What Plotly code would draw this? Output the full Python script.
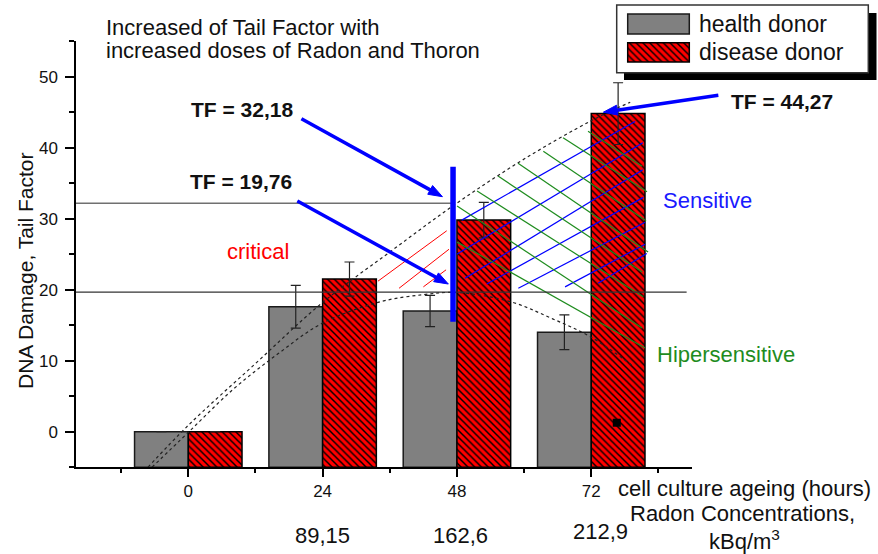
import math
import plotly.graph_objects as go

FONT = "Liberation Sans, Arial, sans-serif"
W, H = 878, 554

# data
HOURS = ["0", "24", "48", "72"]
RADON = ["", "89,15", "162,6", "212,9"]
HEALTH = [0, 17.6, 17.0, 14.0]
HEALTH_ERR = [None, 3.0, 2.2, 2.45]
DISEASE = [0, 21.5, 29.8, 44.8]
DISEASE_ERR = [None, 2.4, 2.5, 4.35]
TF_LOW, TF_HIGH, TF_MAX = 19.76, 32.18, 44.27

# dotted trend curves (x in category units, y in tail factor)
UPPER_X = [-0.30, 0.0, 0.5, 1.0, 1.5, 2.0, 2.5, 3.0, 3.29]
UPPER_Y = [-5.0, 0.9, 9.6, 18.2, 25.3, 32.2, 38.4, 43.8, 46.4]
LOWER_X = [-0.27, 0.0, 0.33, 0.67, 1.0, 1.43, 1.75, 2.0, 2.4, 2.7, 3.0, 3.3]
LOWER_Y = [-5.0, -0.1, 5.9, 11.0, 15.3, 18.3, 19.3, 19.6, 18.3, 16.0, 13.3, 9.4]

# hatch strokes of the zones (x0, y0, x1, y1)
CRITICAL = [(1.412, 21.2, 1.924, 28.3), (1.569, 20.2, 1.941, 25.7),
            (1.750, 20.4, 1.919, 22.8)]
SENSITIVE = [(2.036, 29.8, 3.326, 43.7), (1.999, 25.0, 3.384, 40.7),
             (2.060, 21.6, 3.384, 36.9), (2.222, 20.8, 3.388, 33.0),
             (2.457, 20.2, 3.401, 29.5), (2.805, 20.4, 3.401, 26.4),
             (3.051, 20.9, 3.413, 25.1)]
HIPER = [(2.976, 42.3, 3.378, 37.4), (2.790, 41.4, 3.415, 33.8),
         (2.643, 39.5, 3.408, 29.7), (2.455, 37.8, 3.423, 25.3),
         (2.306, 36.0, 3.380, 22.5), (2.150, 33.9, 3.387, 19.0),
         (2.001, 31.8, 3.378, 14.6), (2.001, 26.7, 3.401, 11.8)]

# arrow heads (data) and tail offsets (px)
ARROWS = [(1.892, 33.1, -141, -78), (1.936, 20.8, -151, -83), (3.09, 45.0, 115, -17)]

BASE = -5
X = list(range(len(HOURS)))

# plot area in figure pixels
XPIX, YPIX = (76, 692), (467.2, 41.2)
XRANGE, YRANGE = (-0.836, 3.75), (-5, 55)


def px(x):
    return x / W


def py(y):
    return 1 - y / H


def to_pix(x, y):
    fx = (x - XRANGE[0]) / (XRANGE[1] - XRANGE[0])
    fy = (y - YRANGE[0]) / (YRANGE[1] - YRANGE[0])
    return XPIX[0] + fx * (XPIX[1] - XPIX[0]), YPIX[0] + fy * (YPIX[1] - YPIX[0])


def strokes(segs, color, width):
    xs, ys = [], []
    for x0, y0, x1, y1 in segs:
        xs += [x0, x1, None]
        ys += [y0, y1, None]
    return go.Scatter(x=xs, y=ys, mode="lines", hoverinfo="skip",
                      line=dict(color=color, width=width))


def arrow_shapes(hx, hy, ax, ay, color="#0000ff", width=3.5, head=14, half=5):
    x1, y1 = to_pix(hx, hy)
    x0, y0 = x1 + ax, y1 + ay
    d = math.hypot(x1 - x0, y1 - y0)
    ux, uy = (x1 - x0) / d, (y1 - y0) / d
    bx, by = x1 - ux * head, y1 - uy * head
    nx, ny = -uy, ux
    tri = [(x1, y1), (bx + nx * half, by + ny * half), (bx - nx * half, by - ny * half)]
    path = "M" + " L".join(f"{px(a):.5f},{py(b):.5f}" for a, b in tri) + " Z"
    return [
        dict(type="line", xref="paper", yref="paper", x0=px(x0), y0=py(y0),
             x1=px(bx + ux * 2), y1=py(by + uy * 2), line=dict(color=color, width=width)),
        dict(type="path", xref="paper", yref="paper", path=path,
             fillcolor=color, line=dict(color=color, width=1)),
    ]


RED_PATTERN = dict(shape="\\", fgcolor="black", bgcolor="#ff0000",
                   size=4.8, solidity=0.3, fillmode="replace")

fig = go.Figure()
fig.add_trace(go.Bar(
    x=X, y=[v - BASE for v in HEALTH], base=BASE, offset=-0.4, width=0.4,
    name="health donor",
    marker=dict(color="#808080", line=dict(color="#1a1a1a", width=1.5)),
    error_y=dict(type="data", array=HEALTH_ERR, color="#222", thickness=1.2, width=5),
))
fig.add_trace(go.Bar(
    x=X, y=[v - BASE for v in DISEASE], base=BASE, offset=0, width=0.4,
    name="disease donor",
    marker=dict(color="#ff0000", line=dict(color="black", width=1.5), pattern=RED_PATTERN),
    error_y=dict(type="data", array=DISEASE_ERR, color="#222", thickness=1.2, width=5),
))
fig.add_trace(strokes(CRITICAL, "#ff0000", 1))
fig.add_trace(strokes(SENSITIVE, "#0000ff", 1.2))
fig.add_trace(strokes(HIPER, "#1e8c1e", 1.2))
for cx, cy in [(UPPER_X, UPPER_Y), (LOWER_X, LOWER_Y)]:
    fig.add_trace(go.Scatter(x=cx, y=cy, mode="lines", hoverinfo="skip",
                             line=dict(color="#222", width=1.2, dash="dot", shape="spline")))
fig.add_trace(go.Scatter(x=[3.19], y=[1.27], mode="markers", hoverinfo="skip",
                         marker=dict(symbol="square", size=8, color="black")))

# legend swatches on their own small axes
fig.add_trace(go.Bar(x=[0.5], y=[20], base=[28], width=[1], xaxis="x2", yaxis="y2",
                     marker=dict(color="#808080", line=dict(color="#1a1a1a", width=1.5))))
fig.add_trace(go.Bar(x=[0.5], y=[19.3], base=[0], width=[1], xaxis="x2", yaxis="y2",
                     marker=dict(color="#ff0000", line=dict(color="black", width=1.5),
                                 pattern=RED_PATTERN)))

shapes = [
    dict(type="rect", xref="paper", yref="paper", x0=px(624), x1=px(876.5), y0=py(80), y1=py(13),
         fillcolor="black", line=dict(width=0), layer="below"),
    dict(type="rect", xref="paper", yref="paper", x0=px(616.7), x1=px(868.3), y0=py(72.7), y1=py(5),
         fillcolor="white", line=dict(color="#333", width=1.5), layer="below"),
    dict(type="line", xref="x", yref="y", x0=XRANGE[0], x1=1.97, y0=TF_HIGH, y1=TF_HIGH,
         line=dict(color="#707070", width=1.5)),
    dict(type="line", xref="x", yref="y", x0=XRANGE[0], x1=3.71, y0=TF_LOW - 0.1, y1=TF_LOW - 0.1,
         line=dict(color="#333", width=1.3)),
    dict(type="line", xref="x", yref="y", x0=1.971, x1=1.971, y0=15.5, y1=37.3,
         line=dict(color="#0000ff", width=5.5)),
]
for a in ARROWS:
    shapes += arrow_shapes(*a)

ann = []


def text(x, y, s, size=22, color="#111", anchor="center", bold=False, **kw):
    if bold:
        s = "<b>" + s + "</b>"
    ann.append(dict(x=px(x), y=py(y), xref="paper", yref="paper", text=s, showarrow=False,
                    xanchor=anchor, yanchor="middle",
                    font=dict(family=FONT, size=size, color=color), **kw))


def tf(v):
    return "TF = " + f"{v:.2f}".replace(".", ",")


text(104, 27, "Increased of Tail Factor with", anchor="left")
text(104, 51, "increased doses of Radon and Thoron", anchor="left")
text(242, 109, tf(TF_HIGH), size=21, bold=True)
text(241, 181, tf(TF_LOW), size=21, bold=True)
text(782, 101, tf(TF_MAX), size=21, bold=True)
text(258, 251, "critical", color="#ff0000")
text(707, 200, "Sensitive", color="#1a1aff")
text(726, 354, "Hipersensitive", color="#1e8c1e")
text(25, 271, "DNA Damage, Tail Factor", size=21, textangle=-90)
text(744, 488, "cell culture ageing (hours)")
text(742, 513, "Radon Concentrations,")
text(744, 540, "kBq/m<sup>3</sup>")
text(697, 24, "health donor", size=23, anchor="left")
text(697, 52, "disease donor", size=23, anchor="left")

# radon concentration under each time point
radon_dx = [0, 0, 0.03, 0.07]
radon_y = [535, 535, 535, 531]
for i, lab in enumerate(RADON):
    if lab:
        ann.append(dict(x=X[i] + radon_dx[i], y=py(radon_y[i]), xref="x", yref="paper", text=lab,
                        showarrow=False, yanchor="middle", font=dict(family=FONT, size=22, color="#111")))

axis_common = dict(showline=True, linecolor="black", linewidth=1.5, showgrid=False, zeroline=False,
                   ticks="outside", tickwidth=1.5, tickcolor="black",
                   tickfont=dict(family=FONT, size=17, color="#111"))

fig.update_layout(
    width=W, height=H, margin=dict(l=0, r=0, t=0, b=0),
    plot_bgcolor="white", paper_bgcolor="white",
    showlegend=False, barmode="overlay",
    font=dict(family=FONT, size=17, color="#111"),
    xaxis=dict(domain=[px(XPIX[0]), px(XPIX[1])], range=list(XRANGE), tickmode="array",
               tickvals=X, ticktext=HOURS, ticklen=8,
               minor=dict(ticks="outside", ticklen=4.5, tickwidth=1.5, tickcolor="black",
                          tickmode="linear", tick0=0.5, dtick=1),
               **axis_common),
    yaxis=dict(domain=[py(YPIX[0]), py(YPIX[1])], range=list(YRANGE), tick0=0, dtick=10, ticklen=9,
               ticklabelstandoff=4,
               minor=dict(ticks="outside", ticklen=5, tickwidth=1.5, tickcolor="black", dtick=5),
               **axis_common),
    xaxis2=dict(domain=[px(625.7), px(691.3)], range=[-0.0325, 1.0325], visible=False,
                anchor="y2", fixedrange=True),
    yaxis2=dict(domain=[py(64), py(12)], range=[-2, 50], visible=False, anchor="x2",
                fixedrange=True),
    shapes=shapes,
    annotations=ann,
)

fig.write_html("out.html", config={"displayModeBar": False},
               post_script="document.body.style.margin='0';")
